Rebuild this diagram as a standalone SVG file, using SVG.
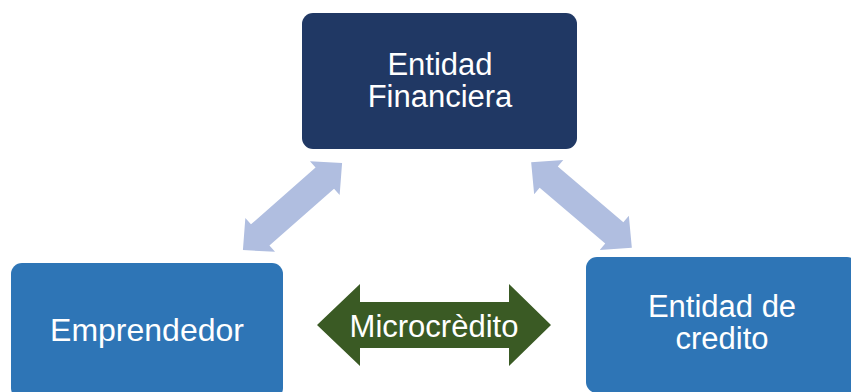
<svg xmlns="http://www.w3.org/2000/svg" width="851" height="392" viewBox="0 0 851 392">
  <defs>
    <style>
      .label { font-family: "Liberation Sans", Arial, sans-serif; fill: #ffffff; text-anchor: middle; }
      .navy { fill: #203864; }
      .blue { fill: #2E75B6; }
      .link { fill: #B0BEE0; }
      .flow { fill: #3A5A24; }
    </style>
    <!-- double-headed block arrow, centred on the origin, pointing along x -->
    <path id="dbl" d="M -66,0 L -43,-22.5 L -43,-14 L 43,-14 L 43,-22.5 L 66,0 L 43,22.5 L 43,14 L -43,14 L -43,22.5 Z"/>
  </defs>
  <rect width="851" height="392" fill="#ffffff"/>

  <g id="connectors">
    <use href="#dbl" class="link" transform="translate(292.5 206.5) rotate(-41.3)"/>
    <use href="#dbl" class="link" transform="translate(581.5 205) rotate(40.3)"/>
    <g id="microcredito">
      <path class="flow" d="M 317,325 L 360,284 L 360,302 L 509,302 L 509,284 L 551,325 L 509,366 L 509,348 L 360,348 L 360,366 Z"/>
      <text class="label" x="434" y="337" font-size="31">Microcrèdito</text>
    </g>
  </g>

  <g id="entidad-financiera">
    <rect class="navy" x="302" y="13" width="275" height="136" rx="11"/>
    <text class="label" x="440" y="75" font-size="31">Entidad</text>
    <text class="label" x="440" y="107" font-size="31">Financiera</text>
  </g>

  <g id="emprendedor">
    <rect class="blue" x="11" y="263" width="272" height="136" rx="11"/>
    <text class="label" x="147" y="341" font-size="32">Emprendedor</text>
  </g>

  <g id="entidad-credito">
    <rect class="blue" x="586" y="257" width="272" height="136" rx="11"/>
    <text class="label" x="722" y="317" font-size="31">Entidad de</text>
    <text class="label" x="722" y="349" font-size="31">credito</text>
  </g>
</svg>
